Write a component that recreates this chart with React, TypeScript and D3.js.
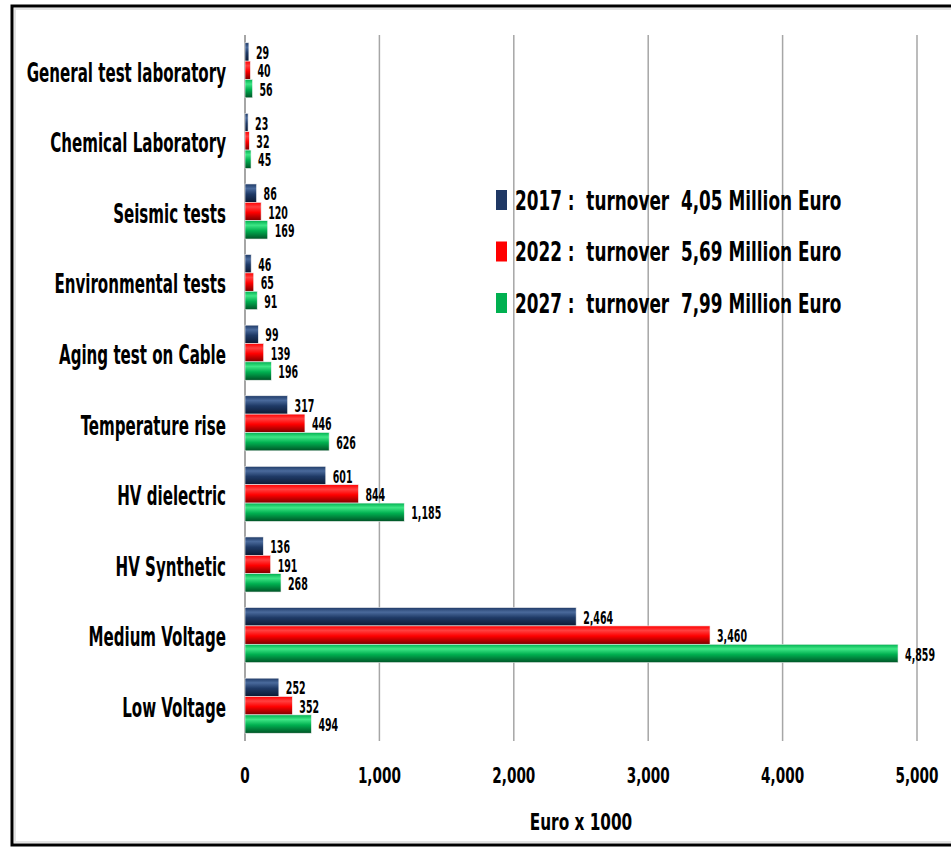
import * as d3 from "d3";

// turnover per test field, Euro x 1000
const categories = [
  "General test laboratory",
  "Chemical Laboratory",
  "Seismic tests",
  "Environmental tests",
  "Aging test on Cable",
  "Temperature rise",
  "HV dielectric",
  "HV Synthetic",
  "Medium Voltage",
  "Low Voltage",
];
const v2017 = [29, 23, 86, 46, 99, 317, 601, 136, 2464, 252];
const v2022 = [40, 32, 120, 65, 139, 446, 844, 191, 3460, 352];
const v2027 = [56, 45, 169, 91, 196, 626, 1185, 268, 4859, 494];
const seriesKeys = ["2017", "2022", "2027"];
const legendLabels = [
  "2017 :  turnover  4,05 Million Euro",
  "2022 :  turnover  5,69 Million Euro",
  "2027 :  turnover  7,99 Million Euro",
];
const xTicks = [0, 1000, 2000, 3000, 4000, 5000];

const W = 951;
const H = 847;
const FONT = "'Liberation Sans Narrow', 'DejaVu Sans Condensed', sans-serif";

const COLORS: Record<string, { top: string; mid: string; bot: string; flat: string }> = {
  "2017": { top: "#4a6a9c", mid: "#1f3a66", bot: "#0c1a33", flat: "#1f3864" },
  "2022": { top: "#ff4040", mid: "#ff0000", bot: "#7a0000", flat: "#ff0000" },
  "2027": { top: "#3ee685", mid: "#00b050", bot: "#005226", flat: "#00b050" },
};

// condensed bold text: the source font is tall and narrow, so squeeze horizontally
function T(props: {
  x: number;
  y: number;
  size: number;
  sx: number;
  anchor?: "start" | "middle" | "end";
  children: string;
}) {
  return (
    <text
      transform={`translate(${props.x},${props.y}) scale(${props.sx},1)`}
      dy="0.36em"
      textAnchor={props.anchor ?? "start"}
      fontFamily={FONT}
      fontWeight="bold"
      fontSize={props.size}
      fill="#000"
      style={{ whiteSpace: "pre" }}
    >
      {props.children}
    </text>
  );
}

export default function App() {
  const series = [v2017, v2022, v2027];

  const x = d3.scaleLinear().domain([0, 5000]).range([245, 917]);
  const y0 = d3
    .scaleBand<string>()
    .domain(categories)
    .range([35, 741])
    .paddingInner(0.22)
    .paddingOuter(0.11);
  const y1 = d3.scaleBand<string>().domain(seriesKeys).range([0, y0.bandwidth()]);
  const fmt = d3.format(",");

  return (
    <div style={{ position: "absolute", left: 0, top: 0 }}>
      <svg width={W} height={H} viewBox={`0 0 ${W} ${H}`} style={{ display: "block", background: "#fff" }}>
        <defs>
          {seriesKeys.map((k) => (
            <linearGradient key={k} id={`g${k}`} x1="0" y1="0" x2="0" y2="1">
              <stop offset="0%" stopColor={COLORS[k].mid} />
              <stop offset="25%" stopColor={COLORS[k].top} />
              <stop offset="55%" stopColor={COLORS[k].mid} />
              <stop offset="100%" stopColor={COLORS[k].bot} />
            </linearGradient>
          ))}
        </defs>

        {/* frame */}
        <rect x={12} y={6} width={W + 10} height={839} fill="none" stroke="#000" strokeWidth={3} />
        <rect x={15} y={9} width={W + 10} height={833} fill="none" stroke="#e3e3e3" strokeWidth={2} />

        {/* gridlines */}
        {xTicks.slice(1).map((t) => (
          <line key={t} x1={x(t)} x2={x(t)} y1={35} y2={741} stroke="#a6a6a6" strokeWidth={1.5} />
        ))}
        <line x1={x(0)} x2={x(0)} y1={35} y2={741} stroke="#a6a6a6" strokeWidth={2} />

        {/* bars */}
        {categories.map((c, i) => (
          <g key={c} transform={`translate(0,${y0(c)})`}>
            {seriesKeys.map((k, s) => {
              const v = series[s][i];
              const by = y1(k)!;
              const bh = y1.bandwidth();
              return (
                <g key={k}>
                  <rect
                    x={x(0)}
                    y={by}
                    width={x(v) - x(0)}
                    height={bh}
                    fill={`url(#g${k})`}
                    stroke="#f2f2f2"
                    strokeWidth={0.6}
                  />
                  <T x={x(v) + 7} y={by + bh / 2 + 1} size={17} sx={0.62}>
                    {fmt(v)}
                  </T>
                </g>
              );
            })}
          </g>
        ))}

        {/* category labels */}
        {categories.map((c) => (
          <T key={c} x={226} y={y0(c)! + y0.bandwidth() / 2 + 2} size={26} sx={0.645} anchor="end">
            {c}
          </T>
        ))}

        {/* x tick labels */}
        {xTicks.map((t) => (
          <T key={t} x={x(t)} y={775} size={21} sx={0.72} anchor="middle">
            {fmt(t)}
          </T>
        ))}
        <T x={(x(0) + x(5000)) / 2} y={822} size={23} sx={0.74} anchor="middle">
          Euro x 1000
        </T>

        {/* legend */}
        {seriesKeys.map((k, i) => (
          <g key={k} transform={`translate(496,${200 + i * 51.5})`}>
            <rect x={0} y={-10} width={11} height={20} fill={COLORS[k].flat} />
            <T x={19} y={0} size={27} sx={0.695}>
              {legendLabels[i]}
            </T>
          </g>
        ))}
      </svg>
    </div>
  );
}
